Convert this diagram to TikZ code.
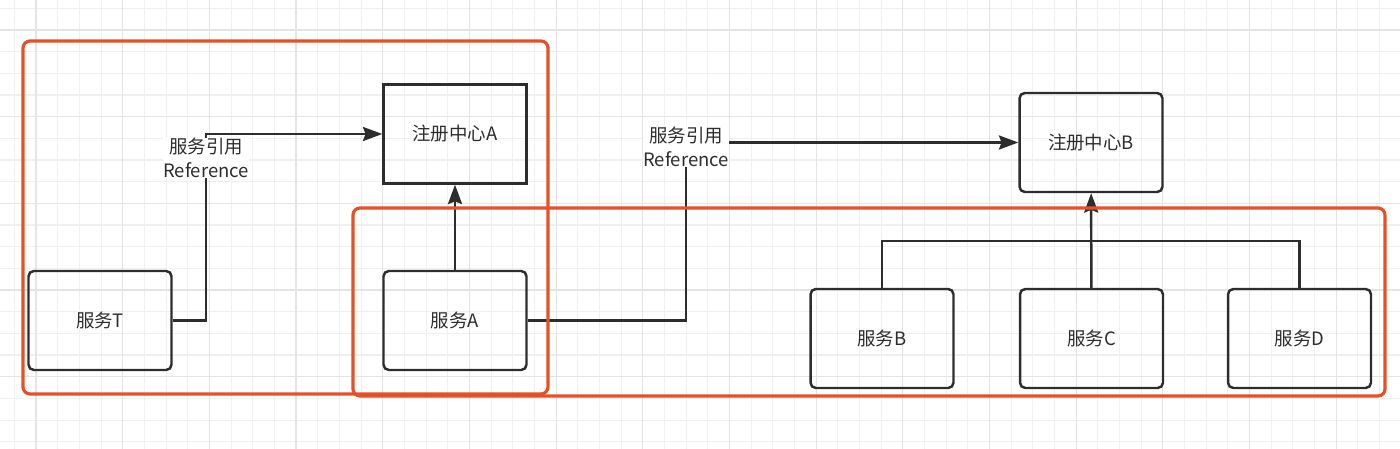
\documentclass[tikz,border=0pt]{standalone}
\usepackage{fontspec}
\setmainfont{Noto Sans CJK SC}
\usetikzlibrary{arrows.meta,positioning}
\definecolor{linegray}{RGB}{45,45,45}
\definecolor{framered}{RGB}{230,80,40}
\definecolor{gridminor}{RGB}{240,240,240}
\definecolor{gridmajor}{RGB}{228,228,228}

\begin{document}
\begin{tikzpicture}[x=0.02cm,y=-0.02cm,
  txt/.style={font=\fontsize{10.5}{13.5}\selectfont,text=linegray},
  svc/.style={txt,draw=linegray,line width=1.4pt,rounded corners=3pt,
    minimum width=2.86cm,minimum height=1.98cm},
  reg/.style={svc,sharp corners},
  ref/.style={txt,align=center,fill=white,inner sep=0pt},
  link/.style={draw=linegray,line width=1.4pt,-{Stealth[length=11pt,width=8pt,inset=1.5pt]}},
  plain/.style={draw=linegray,line width=1.4pt},
  frame/.style={draw=framered,line width=1.8pt,rounded corners=4pt}]
\useasboundingbox (0,0) rectangle (1400,449);
% background grid
\foreach \gx in {14.4,36.07,...,1400}{
  \draw[gridminor,line width=0.6pt] (\gx,0) -- (\gx,449);
}
\foreach \gy in {8.3,29.97,...,449}{
  \draw[gridminor,line width=0.6pt] (0,\gy) -- (1400,\gy);
}
\foreach \gx in {36.1,122.77,...,1400}{
  \draw[gridmajor,line width=0.7pt] (\gx,0) -- (\gx,449);
}
\foreach \gy in {30,116.67,...,449}{
  \draw[gridmajor,line width=0.7pt] (0,\gy) -- (1400,\gy);
}
% services and registries
\node[svc] (svcT) at (100,320.5) {服务T};
\node[reg] (regA) at (455,134) {注册中心A};
\node[svc] (svcA) at (455,320.5) {服务A};
\node[svc] (regB) at (1091,142.5) {注册中心B};
\node[svc] (svcB) at (882,338.5) {服务B};
\node[svc] (svcC) at (1091.5,338.5) {服务C};
\node[svc] (svcD) at (1299.5,338.5) {服务D};
% connectors
\coordinate (refTpos) at (206,158);
\coordinate (refApos) at (686,147);
\coordinate (bus) at (1091.5,241);
\draw[link] (svcT.east) -| (refTpos) |- (regA.west);
\draw[link] (svcA.east) -| (refApos) |- (regB.west);
\draw[link] (svcA) -- (regA);
\draw[plain] (svcB.north) |- (bus) -| (svcD.north);
\draw[link] (svcC) -- (regB);
\node[ref] (refT) at (refTpos) {服务引用\\Reference};
\node[ref] (refA) at (refApos) {服务引用\\Reference};
% red frames
\draw[frame] (23,41) rectangle (548,394);
\draw[frame] (353,208) rectangle (1385,396);
\end{tikzpicture}
\end{document}
